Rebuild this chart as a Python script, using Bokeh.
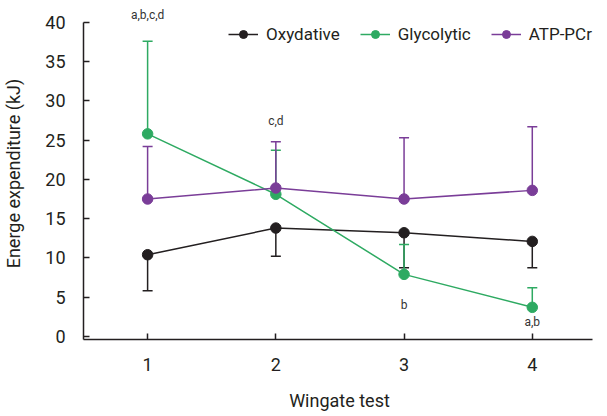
from bokeh.plotting import figure
from bokeh.models import (ColumnDataSource, Whisker, TeeHead, Range1d, FixedTicker,
                          Legend, LegendItem, Label)
from bokeh.embed import file_html
from bokeh.resources import INLINE

# ---- data ----
tests = [1, 2, 3, 4]
x_ticks = [1, 2, 3, 4]
y_ticks = [0, 5, 10, 15, 20, 25, 30, 35, 40]

oxy_mean = [10.4, 13.8, 13.2, 12.1]
oxy_sd = [4.6, 3.6, 4.45, 3.35]
gly_mean = [25.8, 18.1, 7.9, 3.7]
gly_sd = [11.8, 5.6, 3.8, 2.5]
atp_mean = [17.5, 18.9, 17.5, 18.6]
atp_sd = [6.7, 5.9, 7.8, 8.1]

series_names = ["Oxydative", "Glycolytic", "ATP-PCr"]
annot_text = ["a,b,c,d", "c,d", "b", "a,b"]
annot_x = [1, 2, 3, 4]
annot_y = [40.9, 27.4, 3.95, 1.8]

FONT = "Roboto"
BLACK = "#231f20"
GREEN = "#2eaa62"
PURPLE = "#7a3d98"
TXT = "#231f20"

p = figure(frame_width=512, frame_height=332, output_backend="svg", toolbar_location=None,
           x_range=Range1d(0.5, 4.493), y_range=Range1d(-0.4, 41.9),
           min_border_left=79, min_border_right=0, min_border_top=7, min_border_bottom=75)
p.outline_line_color = None
p.xgrid.visible = False
p.ygrid.visible = False
p.background_fill_color = "white"

for ax in (p.xaxis[0], p.yaxis[0]):
    ax.axis_line_color = BLACK
    ax.axis_line_width = 1.5
    ax.major_tick_line_color = BLACK
    ax.major_tick_line_width = 1.5
    ax.major_tick_in = 6
    ax.major_tick_out = 0
    ax.minor_tick_line_color = None
    ax.major_label_text_font = FONT
    ax.major_label_text_font_size = "18px"
    ax.major_label_text_color = TXT
    ax.axis_label_text_font = FONT
    ax.axis_label_text_font_size = "18px"
    ax.axis_label_text_font_style = "normal"
    ax.axis_label_text_color = TXT

p.yaxis.bounds = (-0.4, 40)
p.xaxis.bounds = (0.5, 4.47)
p.xaxis.ticker = FixedTicker(ticks=x_ticks)
p.yaxis.ticker = FixedTicker(ticks=y_ticks)
p.xaxis.axis_label = "Wingate test"
p.yaxis.axis_label = "Energe expenditure (kJ)"
p.xaxis.major_label_standoff = 18
p.xaxis.axis_label_standoff = 16
p.yaxis.major_label_standoff = 18
p.yaxis.axis_label_standoff = 18

items = []
for name, mean, sd, color, direction in [
        ("Oxydative", oxy_mean, oxy_sd, BLACK, -1),
        ("Glycolytic", gly_mean, gly_sd, GREEN, 1),
        ("ATP-PCr", atp_mean, atp_sd, PURPLE, 1)]:
    ends = [m + direction * s for m, s in zip(mean, sd)]
    src = ColumnDataSource(dict(x=tests, y=mean,
                                lower=[min(m, e) for m, e in zip(mean, ends)],
                                upper=[max(m, e) for m, e in zip(mean, ends)]))
    if direction > 0:
        w = Whisker(source=src, base="x", lower="lower", upper="upper",
                    line_color=color, line_width=1.5, lower_head=None,
                    upper_head=TeeHead(size=10, line_color=color, line_width=1.5))
    else:
        w = Whisker(source=src, base="x", lower="lower", upper="upper",
                    line_color=color, line_width=1.5, upper_head=None,
                    lower_head=TeeHead(size=10, line_color=color, line_width=1.5))
    p.add_layout(w)
    r1 = p.line("x", "y", source=src, line_color=color, line_width=1.5)
    r2 = p.scatter("x", "y", source=src, size=10.5, fill_color=color, line_color=color)
    items.append(LegendItem(label=name, renderers=[r1, r2]))

legend = Legend(items=items, orientation="horizontal", location=(145, 295),
                padding=0, margin=0, spacing=20, label_standoff=8,
                glyph_width=30, glyph_height=20, label_height=20,
                label_text_font=FONT, label_text_font_size="17px",
                label_text_color=TXT, border_line_color=None,
                background_fill_alpha=0)
p.add_layout(legend)

for t, xa, ya in zip(annot_text, annot_x, annot_y):
    p.add_layout(Label(x=xa, y=ya, text=t, text_align="center", text_baseline="middle",
                       text_font=FONT, text_font_size="12px", text_color="#333333"))

open("out.html", "w").write(file_html(p, INLINE))
